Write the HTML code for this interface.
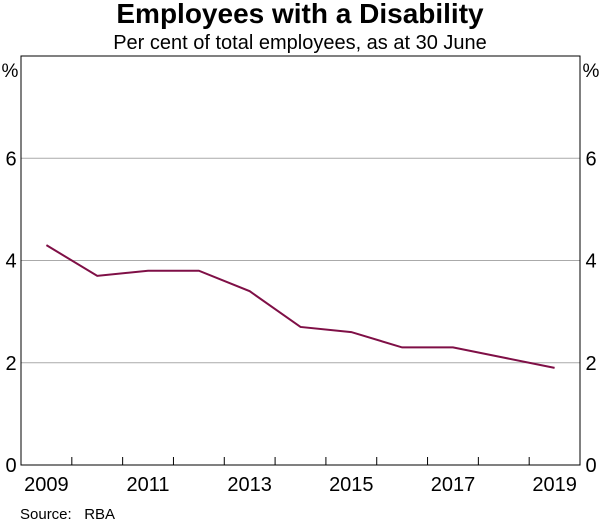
<!DOCTYPE html>
<html><head><meta charset="utf-8"><style>
body{margin:0;background:#fff;width:600px;height:521px;overflow:hidden}
svg{font-family:"Liberation Sans",Arial,sans-serif}
</style></head><body>
<svg id="chart" width="600" height="521">
<text x="300" y="23" text-anchor="middle" font-size="28" font-weight="bold">Employees with a Disability</text>
<text x="300" y="49" text-anchor="middle" font-size="20">Per cent of total employees, as at 30 June</text>
<text x="10" y="77" text-anchor="middle" font-size="19">%</text>
<text x="591" y="77" text-anchor="middle" font-size="19">%</text>
<g id="grid"></g><g id="ticks"></g><g id="labels"></g>
<rect x="21" y="56" width="559" height="409" fill="none" stroke="#000" stroke-width="1"/>
<path id="line" fill="none" stroke="#7f0f46" stroke-width="2"/>
<text x="20" y="519" font-size="15" xml:space="preserve">Source:   RBA</text>
</svg>
<script>
const years=[2009,2010,2011,2012,2013,2014,2015,2016,2017,2018,2019];
const values=[4.3,3.7,3.8,3.8,3.4,2.7,2.6,2.3,2.3,2.1,1.9];
const yTicks=[0,2,4,6];
const xLabels=[2009,2011,2013,2015,2017,2019];
const L=21,R=580,T=56,B=465,ns="http://www.w3.org/2000/svg";
const bw=(R-L)/years.length;
const x=yr=>L+(yr-years[0]+0.5)*bw;
const y=v=>B-(v/8)*(B-T);
function mk(t,a,p){const e=document.createElementNS(ns,t);for(const k in a)e.setAttribute(k,a[k]);document.getElementById(p).appendChild(e);return e;}
yTicks.forEach(v=>{
 if(v>0){const g=mk('line',{x1:L,x2:R,y1:y(v),y2:y(v),stroke:'#aaa','stroke-width':1},'grid');
 
 }
 [[11,'left'],[591,'right']].forEach(([xx,s])=>{const t=mk('text',{x:xx,y:y(v)+7,'text-anchor':'middle','font-size':20},'labels');t.textContent=v;
 
 });
});
for(let i=1;i<years.length;i++){const xx=L+i*bw;const t=mk('line',{x1:xx,x2:xx,y1:B,y2:B-8,stroke:'#000'},'ticks');
 
 }
xLabels.forEach(yr=>{const t=mk('text',{x:x(yr),y:B+26,'text-anchor':'middle','font-size':20},'labels');t.textContent=yr;
 
 });
document.getElementById('line').setAttribute('d',values.map((v,i)=>(i?'L':'M')+x(years[i])+','+y(v)).join(''));
</script>
</body></html>
